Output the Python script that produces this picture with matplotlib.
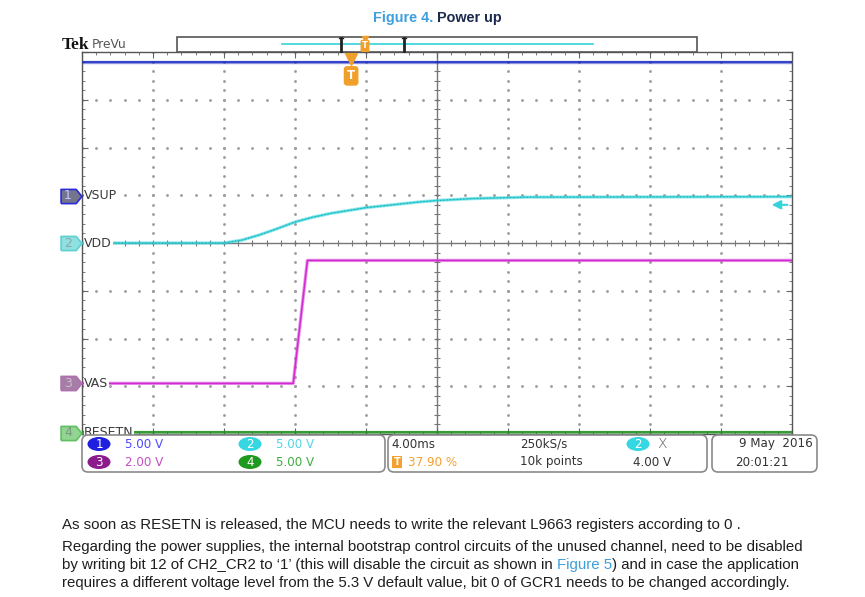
import numpy as np
import matplotlib.pyplot as plt
from matplotlib.patches import FancyBboxPatch, Ellipse, Rectangle

# =========================
# SCOPE SETTINGS
# =========================
ms_per_div = 4.0
n_xdiv = 10
n_ydiv = 8

ch_names = ["VSUP", "VDD", "VAS", "RESETN"]
ch_scale = [5.0, 5.0, 2.0, 5.0]          # V/div
ch_offset = [0.99, 0.0, -2.94, -3.97]    # ground marker, in divisions
ch_line = ["#1c2cc0", "#35d3da", "#d22ad2", "#1d8f1d"]

trig_pct = 37.90        # trigger position, % of record
trig_level = 4.00       # V on CH2

# =========================
# TRACES (time in ms, volts)
# =========================
vsup_t = [0, 40]
vsup_v = [14.0, 14.0]

vdd_t = [0, 8.0, 9.0, 10.0, 11.0, 12.0, 13.0, 14.0, 15.0, 16.0, 17.0, 18.0, 19.0, 20.0, 22.0, 25.0, 40.0]
vdd_v = [0, 0, 0.3, 0.85, 1.5, 2.2, 2.7, 3.1, 3.4, 3.7, 3.9, 4.1, 4.3, 4.45, 4.65, 4.8, 4.85]

vas_t = [0, 11.9, 12.7, 40]
vas_v = [0, 0, 5.15, 5.15]

resetn_t = [0, 40]
resetn_v = [0.1, 0.1]

traces = [(vsup_t, vsup_v), (vdd_t, vdd_v), (vas_t, vas_v), (resetn_t, resetn_v)]

W, H = 865, 597
fig = plt.figure(figsize=(W / 100, H / 100), dpi=100)


def fx(px):
    return px / W


def fy(py):
    return 1 - py / H


# =========================
# GRATICULE
# =========================
x0, x1, y0, y1 = 82, 792, 52, 434
ax = fig.add_axes([fx(x0), fy(y1), (x1 - x0) / W, (y1 - y0) / H])
xmax = n_xdiv * ms_per_div
ax.set_xlim(0, xmax)
ax.set_ylim(-n_ydiv / 2, n_ydiv / 2)

for s in ax.spines.values():
    s.set_color("#555555")
    s.set_linewidth(1.0)

ax.set_xticks(np.arange(0, xmax + 0.01, ms_per_div))
ax.set_xticks(np.arange(0, xmax + 0.01, ms_per_div / 5), minor=True)
ax.set_yticks(np.arange(-4, 4.01, 1))
ax.set_yticks(np.arange(-4, 4.01, 0.2), minor=True)
ax.tick_params(which="both", direction="in", top=True, right=True,
               labelbottom=False, labelleft=False, color="#666666")
ax.tick_params(which="major", length=4, width=0.8)
ax.tick_params(which="minor", length=2.5, width=0.6)

dot_y = np.arange(-4, 4.01, 0.2)
dot_x = np.arange(0, xmax + 0.01, ms_per_div / 5)
for k in range(1, n_xdiv):
    if k == n_xdiv // 2:
        continue
    ax.plot(np.full(len(dot_y), k * ms_per_div), dot_y, ls="none", marker="s",
            ms=0.9, color="#9a9a9a", zorder=1)
for k in range(-3, 4):
    if k == 0:
        continue
    ax.plot(dot_x, np.full(len(dot_x), k), ls="none", marker="s",
            ms=0.9, color="#9a9a9a", zorder=1)

ax.axhline(0, color="#777777", lw=1.0, zorder=1)
ax.axvline(xmax / 2, color="#777777", lw=1.0, zorder=1)
ax.plot(dot_x, np.zeros(len(dot_x)), ls="none", marker="|", ms=5, mew=0.8,
        color="#777777", zorder=1)
ax.plot(np.full(len(dot_y), xmax / 2), dot_y, ls="none", marker="_", ms=5, mew=0.8,
        color="#777777", zorder=1)

# =========================
# TRACES
# =========================
for i, (t, v) in enumerate(traces):
    yd = [ch_offset[i] + val / ch_scale[i] for val in v]
    ax.plot(t, yd, color=ch_line[i], lw=2.4, alpha=0.5, zorder=3, solid_capstyle="butt")
    ax.plot(t, yd, color=ch_line[i], lw=1.1, zorder=4, solid_capstyle="butt")
    if i == 1:
        ax.plot(t, yd, color="#1f8c90", lw=0.6, zorder=5, ls=(0, (1, 3)))

# trigger position and level
trig_t = trig_pct / 100 * xmax
ax.plot([trig_t], [3.86], marker="v", ms=9, color="#f0a02a", zorder=6, clip_on=False)
ax.text(trig_t, 3.5, "T", ha="center", va="center", fontsize=8.5, fontweight="bold",
        color="white", zorder=7,
        bbox=dict(boxstyle="round,pad=0.22", fc="#f0a02a", ec="#f0a02a"))
lvl = ch_offset[1] + trig_level / ch_scale[1]
ax.annotate("", xy=(xmax - 1.3, lvl), xytext=(xmax - 0.1, lvl),
            arrowprops=dict(arrowstyle="-|>", color="#35d3da", lw=1.5,
                            mutation_scale=13), zorder=6)

# channel markers (tag shaped) and labels
tag = [(-1, -0.68), (0.45, -0.68), (1, 0), (0.45, 0.68), (-1, 0.68), (-1, -0.68)]
mk_face = ["#74748c", "#8fe0e0", "#a57ea5", "#92d492"]
mk_edge = ["#2a2ad8", "#5fd0d0", "#b070b0", "#60c060"]
mk_txt = ["#c8c8ff", "#8aa8a8", "#d8b8d8", "#7a9a7a"]
ytr = ax.get_yaxis_transform()
for i in range(4):
    ax.plot([-0.0155], [ch_offset[i]], transform=ytr, marker=tag, ms=15,
            mfc=mk_face[i], mec=mk_edge[i], mew=1.2, clip_on=False, zorder=8)
    ax.text(-0.0197, ch_offset[i], str(i + 1), transform=ytr, ha="center", va="center",
            fontsize=9, color=mk_txt[i], clip_on=False, zorder=9)
    ax.text(0.003, ch_offset[i], ch_names[i], transform=ytr, ha="left", va="center",
            fontsize=9, color="#3a3a3a", clip_on=False, zorder=8,
            bbox=dict(boxstyle="square,pad=0.05", fc="white", ec="none"))

# =========================
# OVERLAY (title, header, readouts, caption)
# =========================
ov = fig.add_axes([0, 0, 1, 1])
ov.set_xlim(0, W)
ov.set_ylim(H, 0)
ov.axis("off")
ov.set_zorder(5)
rend = fig.canvas.get_renderer()


def run_text(x, y, parts, **kw):
    for s, c in parts:
        t = ov.text(x, y, s, color=c, va="center", ha="left", **kw)
        x += t.get_window_extent(rend).width
    return x


# title
run_text(373, 18, [("Figure 4. ", "#3e9fdc"), ("Power up", "#1c2a4e")],
         fontsize=10.4, fontweight="bold", family="Liberation Sans")

# Tek PreVu header
ov.text(62, 45, "Tek", fontsize=12.5, fontweight="bold", family="Liberation Serif",
        color="#111111", va="center")
ov.text(92, 44, "PreVu", fontsize=8.8, color="#555555", va="center")

# record bar
ov.add_patch(Rectangle((177, 37), 520, 15, fc="white", ec="#555555", lw=1.2))
ov.plot([282, 593], [44, 44], color="#35d3da", lw=1.2)
for bx in (341, 404):
    ov.plot([bx, bx], [38, 51], color="#222222", lw=2)
ov.plot([339, 343], [38, 38], color="#222222", lw=1)
ov.plot([402, 406], [38, 38], color="#222222", lw=1)
ov.plot([365], [38.5], marker="v", ms=5, color="#f0a02a")
ov.text(365, 46, "T", ha="center", va="center", fontsize=6, fontweight="bold",
        color="white", bbox=dict(boxstyle="round,pad=0.1", fc="#f0a02a", ec="#f0a02a"))

# readout panels
for bx, bw in ((82, 303), (388, 319), (712, 105)):
    ov.add_patch(FancyBboxPatch((bx, 435), bw, 37, boxstyle="round,pad=0,rounding_size=6",
                                fc="white", ec="#8a8a8a", lw=1.2))

rd = dict(fontsize=8.6, va="center", family="DejaVu Sans")
badges = [(99, 444, "1", "#1f1fe0", "5.00 V", "#4a4aff"),
          (99, 462, "3", "#8c1b8c", "2.00 V", "#c24ec2"),
          (250, 444, "2", "#35d8e2", "5.00 V", "#4fd6e6"),
          (250, 462, "4", "#1f9a1f", "5.00 V", "#3fae3f")]
for cx, cy, num, col, txt, tcol in badges:
    ov.add_patch(Ellipse((cx, cy), 23, 14, fc=col, ec="none"))
    ov.text(cx, cy, num, ha="center", color="white", **rd)
    ov.text(cx + 26, cy, txt, ha="left", color=tcol, **rd)

ov.text(391, 444, "4.00ms", ha="left", color="#333333", **rd)
ov.text(397, 462, "T", ha="center", color="white", fontsize=7, va="center", fontweight="bold",
        bbox=dict(boxstyle="square,pad=0.15", fc="#f5a030", ec="none"))
ov.text(408, 462, "37.90 %", ha="left", color="#f5a030", **rd)
ov.text(520, 444, "250kS/s", ha="left", color="#333333", **rd)
ov.text(520, 462, "10k points", ha="left", color="#333333", **rd)
ov.add_patch(Ellipse((638, 444), 23, 14, fc="#35d8e2", ec="none"))
ov.text(638, 444, "2", ha="center", color="white", **rd)
ov.text(657, 444, "X", ha="left", color="#555555", fontsize=10, va="center",
        family="DejaVu Sans", fontweight="light")
ov.text(633, 462, "4.00 V", ha="left", color="#333333", **rd)
ov.text(813, 444, "9 May  2016", ha="right", color="#333333", **rd)
ov.text(735, 462, "20:01:21", ha="left", color="#333333", **rd)

# caption text, sized so the longest line spans the same width as in the source page
cap_lines = [
    [("As soon as RESETN is released, the MCU needs to write the relevant "
      "L9663 registers according to 0 .", "#1e1e1e")],
    [("Regarding the power supplies, the internal bootstrap control circuits "
      "of the unused channel, need to be disabled", "#1e1e1e")],
    [("by writing bit 12 of CH2_CR2 to \u20181\u2019 (this will disable the "
      "circuit as shown in ", "#1e1e1e"), ("Figure 5", "#3e9fdc"),
     (") and in case the application", "#1e1e1e")],
    [("requires a different voltage level from the 5.3 V default value, "
      "bit 0 of GCR1 needs to be changed accordingly.", "#1e1e1e")],
]
cap_y = [525, 547, 565, 583]
probe = ov.text(0, 0, cap_lines[1][0][0], fontsize=11, family="Liberation Sans")
cap_size = 11 * 738 / probe.get_window_extent(rend).width
probe.remove()
for parts, y in zip(cap_lines, cap_y):
    run_text(62, y, parts, fontsize=cap_size, family="Liberation Sans")

fig.savefig("out.png", dpi=100)
